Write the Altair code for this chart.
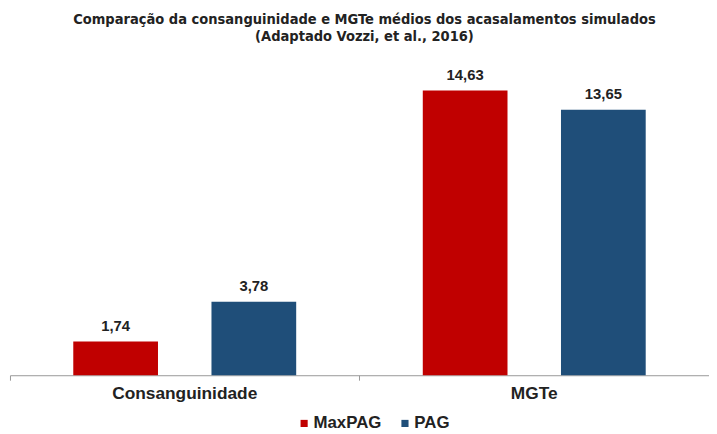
import altair as alt
import pandas as pd

groups = ["Consanguinidade", "Consanguinidade", "MGTe", "MGTe"]
series = ["MaxPAG", "PAG", "MaxPAG", "PAG"]
values = [1.74, 3.78, 14.63, 13.65]
labels = ["1,74", "3,78", "14,63", "13,65"]

df = pd.DataFrame({"grupo": groups, "serie": series, "valor": values, "rotulo": labels})

font = "Liberation Sans"
x = alt.X("grupo:N", title=None, sort=["Consanguinidade", "MGTe"],
          scale=alt.Scale(paddingInner=0, paddingOuter=0),
          axis=alt.Axis(labelAngle=0, labelFontSize=17.5, labelFontWeight="bold", labelColor="#222222",
                        labelFont=font, domainColor="#999999", tickColor="#999999", tickSize=5,
                        labelPadding=5, bandPosition=0, grid=False))
xo = alt.XOffset("serie:N", sort=["MaxPAG", "PAG"],
                 scale=alt.Scale(paddingInner=0.387, paddingOuter=0.458))
y = alt.Y("valor:Q", scale=alt.Scale(domain=[0, 15.5]), axis=None)
color = alt.Color("serie:N", sort=["MaxPAG", "PAG"],
                  scale=alt.Scale(domain=["MaxPAG", "PAG"], range=["#C00000", "#1F4E79"]),
                  legend=alt.Legend(title=None, orient="none", direction="horizontal",
                                    legendX=289, legendY=345, symbolType="square", symbolSize=52,
                                    labelFontSize=17, labelFontWeight="bold", labelFont=font,
                                    labelColor="#222222", columnPadding=15, labelOffset=1,
                                    symbolOpacity=1))

bars = alt.Chart(df).mark_bar().encode(x=x, xOffset=xo, y=y, color=color)
text = alt.Chart(df).mark_text(baseline="bottom", dy=-8, fontSize=15, fontWeight="bold",
                               font=font, color="#222222").encode(
    x=x, xOffset=xo, y=y, text="rotulo:N")

chart = (bars + text).properties(
    width=707, height=305,
    title=alt.Title(["Comparação da consanguinidade  e MGTe médios dos acasalamentos simulados",
                     "(Adaptado Vozzi, et al., 2016)"],
                    fontSize=14.7, fontWeight="bold",
                    font="'DejaVu Sans Condensed', 'Liberation Sans', sans-serif", color="#222222",
                    anchor="middle", offset=24, lineHeight=18, dx=5),
    autosize=alt.AutoSizeParams(type="none"),
    padding={"left": 2, "top": 64, "right": 0, "bottom": 56},
).configure_view(stroke=None).configure_axis(grid=False)

chart.save("out.html", embed_options={"renderer": "svg", "actions": False})
